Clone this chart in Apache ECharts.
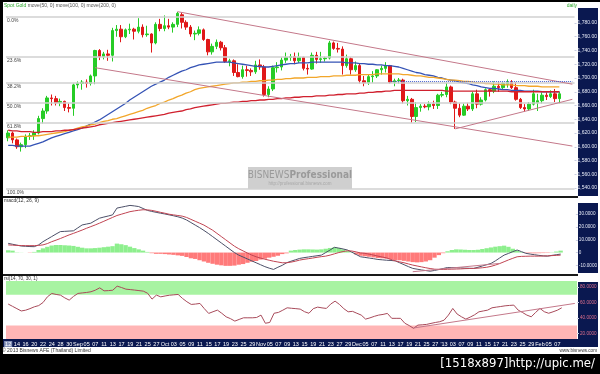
<!DOCTYPE html>
<html><head><meta charset="utf-8">
<script src="https://cdn.jsdelivr.net/npm/echarts@6/dist/echarts.min.js"></script>
<style>html,body{margin:0;padding:0;background:#fff}#c{width:600px;height:374px}</style>
</head><body><div id="c"></div>
<script>
const dates = [
'2012-08-10','2012-08-13','2012-08-14','2012-08-15','2012-08-16','2012-08-17',
'2012-08-20','2012-08-21','2012-08-22','2012-08-23','2012-08-24',
'2012-08-27','2012-08-28','2012-08-29','2012-08-30','2012-08-31',
'2012-09-03','2012-09-04','2012-09-05','2012-09-06','2012-09-07',
'2012-09-10','2012-09-11','2012-09-12','2012-09-13','2012-09-14',
'2012-09-17','2012-09-18','2012-09-19','2012-09-20','2012-09-21',
'2012-09-24','2012-09-25','2012-09-26','2012-09-27','2012-09-28',
'2012-10-01','2012-10-02','2012-10-03','2012-10-04','2012-10-05',
'2012-10-08','2012-10-09','2012-10-10','2012-10-11','2012-10-12',
'2012-10-15','2012-10-16','2012-10-17','2012-10-18','2012-10-19',
'2012-10-22','2012-10-23','2012-10-24','2012-10-25','2012-10-26',
'2012-10-29','2012-10-31','2012-11-01','2012-11-02',
'2012-11-05','2012-11-06','2012-11-07','2012-11-08','2012-11-09',
'2012-11-12','2012-11-13','2012-11-14','2012-11-15','2012-11-16',
'2012-11-19','2012-11-20','2012-11-21','2012-11-22','2012-11-23',
'2012-11-26','2012-11-27','2012-11-28','2012-11-29','2012-11-30',
'2012-12-03','2012-12-04','2012-12-05','2012-12-06','2012-12-07',
'2012-12-10','2012-12-11','2012-12-12','2012-12-13','2012-12-14',
'2012-12-17','2012-12-18','2012-12-19','2012-12-20','2012-12-21',
'2012-12-24','2012-12-25','2012-12-26','2012-12-27','2012-12-31',
'2013-01-01','2013-01-02','2013-01-03','2013-01-04',
'2013-01-07','2013-01-08','2013-01-09','2013-01-10','2013-01-11',
'2013-01-14','2013-01-15','2013-01-16','2013-01-17','2013-01-18',
'2013-01-21','2013-01-22','2013-01-23','2013-01-24','2013-01-25',
'2013-01-28','2013-01-29','2013-01-30','2013-02-01',
'2013-02-04','2013-02-05','2013-02-06','2013-02-07','2013-02-08'
];
const padDates = ['2013-02-11','2013-02-12','2013-02-13'];
const tickLabels = ['12','14','16','20','22','24','28','30','Sep','05','07','11','13','17','19','21','25','27',
'Oct','03','05','09','11','15','17','19','23','25','29','Nov','05','07','09','13','15','19','21','23','27','29',
'Dec','05','07','11','13','17','19','21','25','27',"'13",'03','07','09','11','15','17','21','23','25','29','Feb','05','07'];

// [open, close, low, high]
const ohlc = [
[1613,1620,1608,1624],[1620,1610,1605,1622],[1610,1600,1597,1612],[1600,1603,1593,1606],[1603,1615,1598,1618],
[1615,1616,1610,1620],[1616,1620,1610,1624],[1620,1641,1618,1645],[1641,1652,1634,1656],[1652,1671,1648,1674],
[1671,1670,1660,1676],[1670,1664,1660,1674],[1664,1666,1659,1670],[1666,1657,1652,1667],[1657,1656,1650,1663],
[1656,1690,1645,1692],[1690,1692,1685,1695],[1692,1694,1683,1697],[1694,1692,1686,1698],[1692,1703,1689,1705],
[1703,1740,1691,1741],[1740,1731,1726,1742],[1731,1735,1727,1738],[1735,1733,1725,1741],[1733,1769,1724,1773],
[1769,1771,1760,1777],[1771,1760,1752,1777],[1760,1770,1758,1772],[1770,1771,1764,1779],[1771,1768,1756,1773],
[1768,1774,1765,1787],[1774,1763,1759,1778],[1763,1764,1760,1776],[1764,1751,1737,1765],[1751,1778,1749,1781],
[1778,1772,1768,1786],[1772,1776,1768,1791],[1776,1774,1771,1786],[1774,1778,1766,1781],[1778,1794,1774,1796],
[1792,1781,1772,1795],[1781,1774,1770,1784],[1774,1764,1760,1777],[1764,1765,1755,1769],[1765,1770,1762,1775],
[1770,1756,1754,1772],[1756,1738,1733,1757],[1738,1746,1734,1750],[1746,1752,1742,1756],[1752,1744,1740,1754],
[1744,1724,1722,1748],[1724,1725,1717,1728],[1725,1708,1703,1727],[1708,1702,1701,1720],[1702,1712,1699,1718],
[1712,1711,1702,1718],[1711,1709,1703,1714],[1709,1719,1706,1725],[1719,1716,1712,1727],[1716,1676,1673,1719],
[1676,1684,1672,1688],[1684,1715,1681,1718],[1715,1716,1708,1723],[1716,1726,1711,1730],[1726,1730,1722,1737],
[1730,1731,1725,1735],[1731,1725,1720,1737],[1725,1730,1722,1737],[1730,1714,1711,1731],[1714,1713,1705,1720],
[1713,1733,1712,1737],[1733,1727,1721,1738],[1727,1728,1722,1738],[1728,1729,1724,1731],[1729,1751,1727,1754],
[1751,1743,1741,1753],[1743,1742,1737,1751],[1742,1718,1705,1746],[1718,1728,1715,1734],[1728,1712,1705,1730],
[1712,1718,1709,1724],[1718,1696,1692,1721],[1696,1693,1688,1703],[1693,1702,1690,1705],[1702,1703,1693,1710],
[1703,1712,1700,1713],[1712,1714,1705,1718],[1714,1718,1708,1723],[1718,1694,1692,1719],[1694,1696,1688,1699],
[1696,1697,1692,1700],[1697,1667,1663,1699],[1667,1669,1660,1674],[1669,1644,1635,1671],[1644,1657,1636,1665],
[1657,1659,1651,1662],[1659,1658,1656,1662],[1658,1662,1653,1666],[1662,1660,1655,1667],[1660,1675,1655,1677],
[1675,1676,1672,1680],[1676,1687,1672,1693],[1687,1665,1662,1689],[1665,1656,1626,1667],[1656,1646,1643,1663],
[1646,1659,1645,1663],[1659,1655,1652,1664],[1655,1677,1652,1680],[1677,1662,1656,1683],[1662,1668,1660,1672],
[1668,1683,1666,1685],[1683,1681,1673,1685],[1681,1688,1678,1695],[1688,1686,1680,1694],[1686,1692,1684,1694],
[1691,1693,1686,1698],[1693,1686,1684,1697],[1686,1669,1667,1694],[1669,1657,1655,1671],[1657,1655,1651,1662],
[1655,1662,1652,1665],[1662,1677,1660,1683],[1664,1667,1652,1677],[1667,1675,1663,1679],[1675,1673,1668,1679],
[1673,1677,1671,1682],[1677,1670,1665,1684],[1670,1677,1663,1680]
];
const ma50 = [
1602,1602,1601,1601,1601,1601,
1603,1605,1607,1610,1613,
1615,1617,1619,1621,1623,1625,1627,
1630,1633,1636,1639,
1643,1647,1651,1655,1659,1663,1668,
1672,1676,1680,1684,1688,1691,1694,1697,1701,
1704,1707,1710,1712,1715,1717,1719,
1720,1721,1722,1723,1723,1723,1723,1722,
1721,1720,1719,1718,1717,1717,1716,1716,
1717,1718,1719,1720,1721,1721,1722,
1722,1722,1723,1723,1723,1723,1723,1723,
1723,1723,1722,1722,1722,
1721,1721,1720,1720,1719,1719,
1718,1718,1717,1716,
1714,1712,1710,1708,1707,1705,1704,
1703,1701,1700,1698,1697,
1696,1694,1693,1692,1690,1689,1687,
1686,1685,1685,1684,1683,1683,1682,1682,
1682,1681,1681,1681,1681,1680,1680,1680,1680,1680
];
const ma100 = [
1614,1614,1614,1615,1615,1615,1616,
1616,1617,1618,1619,1620,1621,
1622,1624,1625,1627,1629,
1630,1632,1633,1635,1637,1638,1640,1641,1643,1645,1647,1649,
1651,1653,1656,1658,1660,1663,1665,1668,
1670,1673,1675,1678,1680,1683,1685,
1686,1687,1688,1689,1690,1691,1692,1693,
1693,1694,1694,1695,1695,1696,1696,1697,1697,1698,1698,1699,1699,1700,1700,
1700,1701,1701,1701,1702,1702,1702,1703,1703,1703,1704,1704,
1704,1705,1705,1705,1705,1706,1706,1706,1706,1706,1706,
1705,1705,1704,1703,1703,1702,1701,1701,1700,1699,1698,1697,
1697,1696,1695,1695,1694,1693,1693,1692,1692,1691,1691,1690,1690,
1690,1689,1689,1689,1688,1688,1688,1687,1687,1687,1687,1687
];
const ma200 = [
1624,1623,1623,1622,1622,1622,1621,
1621,1622,1622,1622,1623,1623,1624,1624,
1625,1626,1627,1628,1629,1630,1632,
1633,1634,1635,1636,1637,1638,1639,1640,1641,1642,1643,1644,
1645,1646,1647,1649,1650,1651,1652,1654,1655,1657,1658,
1659,1660,1661,1662,1663,1663,1664,1665,
1665,1666,1666,1667,1667,1668,1668,1669,
1669,1670,1670,1671,1671,1672,1672,1673,1673,1673,1674,1674,1674,1675,1675,
1676,1676,1677,1677,1677,1678,1678,1679,1679,1680,1680,1681,1681,1682,1682,
1682,1682,1682,1682,1682,1682,1682,1682,1682,1682,1681,1681,1681,1681,
1681,1681,1681,1681,1681,1681,1681,1681,1681,1681,1681,1680,1680,1680,1680,1680,1680,1680,1680,1680,1680,1680,1680
];
const macdLine = [
7.2,6.5,5.8,5.1,4.9,4.7,4.6,6.0,
8.5,10.5,12.5,14.5,16.4,16.6,16.8,17.0,
19.3,21.6,22.3,23.0,25.0,26.9,27.8,28.6,29.5,
34.8,35.5,36.2,36.9,36.5,36.0,34.5,
33.0,32.2,31.5,30.8,30.2,29.5,28.8,28.0,27.0,
25.5,23.5,21.5,19.5,17.3,15.0,12.5,10.0,7.5,5.0,2.5,0.0,
-2.0,-3.5,-5.0,-6.5,-8.0,-9.5,-11.0,-12.2,-13.2,
-11.5,-10.0,-8.0,-6.8,-5.7,-4.6,
-4.0,-3.5,-3.0,-2.5,-2.0,0.0,2.0,4.1,
3.5,2.8,2.0,0.3,-1.5,-3.3,
-3.8,-4.3,-4.8,-5.4,-5.7,-6.0,-6.2,-6.5,
-8.0,-9.5,-11.0,-12.4,-13.0,-13.6,-14.1,-14.6,
-14.0,-13.3,-12.5,-11.7,-11.8,-11.9,-12.0,-12.2,-12.3,-12.4,
-11.5,-10.5,-9.5,-8.5,-6.5,-4.2,-2.0,-0.7,0.7,2.0,
0.7,-0.6,-1.2,-1.7,-2.2,-2.6,-2.8,-2.2,-1.7,-1.2
];
const signalLine = [
6.0,5.8,5.6,5.5,5.4,5.4,5.4,5.6,
6.0,7.0,8.5,9.7,11.0,12.4,13.8,15.0,
16.3,17.6,19.0,20.3,21.6,23.0,24.5,26.0,27.5,
29.0,30.0,31.0,32.0,32.6,33.1,33.5,
33.4,33.0,32.3,31.5,30.8,30.0,29.5,29.0,28.5,
27.5,26.0,24.5,23.0,21.5,19.5,17.5,15.0,12.5,10.0,7.5,5.0,
3.0,1.3,-0.4,-2.0,-3.3,-4.3,-5.2,-6.0,-6.8,
-7.4,-8.0,-8.0,-7.5,-6.8,-5.9,
-5.3,-4.8,-4.3,-3.7,-3.2,-2.8,-2.0,-1.0,
0.0,0.8,1.4,1.2,0.5,-0.3,
-0.6,-1.3,-2.0,-2.8,-3.5,-4.2,-5.4,-6.5,
-7.3,-8.0,-8.9,-9.8,-10.5,-11.2,-11.9,-12.5,
-13.0,-13.2,-13.2,-13.1,-13.0,-12.9,-12.8,-12.6,-12.5,-12.4,
-12.2,-11.9,-11.5,-10.8,-9.8,-8.6,-7.2,-5.8,-4.5,-3.3,
-3.0,-2.9,-2.8,-2.8,-2.8,-2.7,-2.6,-2.4,-2.2,-2.0
];
const macdHist = [
1.8,1.5,0.2,0.1,0.0,-0.2,
0.5,2.0,3.3,4.5,5.5,5.9,5.9,5.7,5.5,5.2,4.5,3.8,3.3,3.3,3.5,3.8,4.2,4.6,5.0,
7.0,6.5,5.8,4.6,3.5,2.5,1.5,0.5,
-0.5,-1.0,-1.0,-1.2,-1.5,-1.8,-2.2,-2.6,-3.5,-4.5,
-5.0,-6.0,-7.0,-8.0,-8.8,-9.5,-10.0,-10.4,-10.4,-10.2,
-9.5,-9.0,-8.0,-7.2,-6.6,-5.5,-4.8,-4.0,-3.3,-2.5,-1.2,-0.6,
1.5,2.0,2.3,2.5,2.5,2.4,2.3,2.5,3.0,3.6,4.1,3.6,2.5,1.2,0.3,
-1.5,-2.5,-2.9,-3.3,-3.8,-4.3,-4.5,-4.8,-5.3,-5.8,-6.0,-6.5,-7.0,-7.5,-7.7,-7.5,-7.0,-6.0,-4.0,-2.0,-0.5,
1.0,2.0,2.5,2.4,2.2,2.0,2.0,2.2,2.8,3.4,4.0,4.6,5.0,5.4,4.5,3.0,1.5,0.5,
-0.3,-0.5,-0.6,-0.5,-0.4,-0.3,0.2,0.8,1.5
];
const rsi = [
58,55,52,49,50,52,54.4,56,
60,67.4,71.8,70.5,69.6,66,63.1,68,
71.8,72.5,73.1,74,76.1,79.1,75.2,75.5,76,
81.3,79.5,77.4,76.8,76.2,75.5,74.8,
72,64.4,69.6,67.4,68.5,69.5,70,70.5,65.3,
61,57.5,58,58.8,52,45.8,48,50.1,46,41.4,39,35.8,
38,40.1,40.1,40.1,40.5,43.6,33,34,46,
47.1,50,53.1,52.5,52,51.4,
48,46,52,54,53,52.3,58,61.8,
57.5,52,47.9,48.5,46,43.6,
38.4,40,42,43.6,44.5,45.8,39.4,39.4,
39.4,33,30,26.4,30.6,31,31.5,32.8,
34,35,37,43.6,52.3,45,41.4,38.4,41,44,
47.9,49,50.1,53.1,54,54.8,55.7,56.2,56.6,50.1,
47,43.6,41.4,47,52.3,48,46,47.9,50,53.1
];
const fibLabels = ['0.0%','23.6%','38.2%','50.0%','61.8%','100.0%'];
const fibPrices = [1789,1730.5,1692.7,1663.6,1634.5,1538.5];
const priceTicks = [1540,1560,1580,1600,1620,1640,1660,1680,1700,1720,1740,1760,1780];
const lastPrice = 1677;
const macdTicks = [-10,0,10,20,30];
const rsiTicks = [20,40,60,80];
const trendUpper = [[39,1796.5],[130,1691]];
const trendLower = [[20,1715],[130,1601]];
const trendRise = [[103,1626],[130,1669]];
const resistance = [[88,1695.6],[130,1695.6]];
const macdTrend = [[93,-15],[113,-8.5]];
const rsiTrend = [[93,26.8],[130,58.8]];

const cats = dates.concat(padDates);
const FONT = 'Liberation Sans, Arial, sans-serif';
const NARROW = 'Liberation Sans Narrow, DejaVu Sans Condensed, sans-serif';
const NAVY = '#0a1850';
const TREND = '#c4788a';
const fmtPrice = v => { const s = v.toFixed(2).split('.'); return s[0].replace(/\B(?=(\d{3})+(?!\d))/g, ',') + '.' + s[1]; };
const seg = (pts, color, type) => [
  {coord: pts[0], lineStyle: {color: color, width: 1, type: type || 'solid'}, label: {show: false}},
  {coord: pts[1], lineStyle: {color: color, width: 1, type: type || 'solid'}, label: {show: false}}
];

const chart = echarts.init(document.getElementById('c'), null, {renderer: 'canvas'});
const GL = 6, GR = 23;
const xAx = i => ({
  type: 'category', gridIndex: i, data: cats, boundaryGap: true, z: 10,
  axisLine: {show: false}, axisTick: {show: false}, splitLine: {show: false},
  axisLabel: i === 2 ? {
    show: true, interval: 1, color: '#ffffff', fontSize: 5.5, margin: 2, fontFamily: FONT,
    formatter: (v, idx) => { const t = tickLabels[idx / 2]; if (t === undefined) return ''; return idx === 0 ? '{hl|' + t + '}' : t; },
    rich: {hl: {backgroundColor: '#8592b8', color: '#fff', fontSize: 5.5, padding: [0, 1]}}
  } : {show: false}
});

const option = {
  animation: false,
  textStyle: {fontFamily: FONT},
  grid: [
    {left: GL, right: GR, top: 8, height: 188},
    {left: GL, right: GR, top: 204, height: 69},
    {left: GL, right: GR, top: 281, height: 58}
  ],
  xAxis: [xAx(0), xAx(1), xAx(2)],
  yAxis: [
    {type: 'value', gridIndex: 0, position: 'right', min: 1528.4, max: 1801.8, z: 10,
     axisLine: {show: false}, splitLine: {show: false},
     axisTick: {show: true, length: 2, customValues: priceTicks, lineStyle: {color: '#c8cce0'}},
     axisLabel: {color: '#e6eaf6', fontSize: 5, margin: 3, customValues: priceTicks, formatter: fmtPrice}},
    {type: 'value', gridIndex: 1, position: 'right', min: -16, max: 38, z: 10,
     axisLine: {show: false}, splitLine: {show: false},
     axisTick: {show: true, length: 2, customValues: macdTicks, lineStyle: {color: '#c8cce0'}},
     axisLabel: {color: '#e6eaf6', fontSize: 4.6, margin: 3, customValues: macdTicks, formatter: v => v === 0 ? '0' : v.toFixed(4)}},
    {type: 'value', gridIndex: 2, position: 'right', min: 12.5, max: 88, z: 10,
     axisLine: {show: false}, splitLine: {show: false},
     axisTick: {show: true, length: 2, customValues: rsiTicks, lineStyle: {color: '#c8cce0'}},
     axisLabel: {color: '#e0708c', fontSize: 4.6, margin: 3, customValues: rsiTicks, formatter: v => v.toFixed(4)}}
  ],
  series: [
    {name: 'fib', type: 'line', xAxisIndex: 0, yAxisIndex: 0, data: [], z: 1, silent: true,
     markLine: {symbol: ['none', 'none'], silent: true, animation: false,
       data: fibPrices.map((p, k) => ({yAxis: p, lineStyle: {color: '#d0d0d0', width: 1.5, type: 'solid'},
         label: {show: true, position: 'insideStartBottom', formatter: fibLabels[k], color: '#444', fontSize: 5, distance: [1, 1.5]}}))}},
    {name: 'Spot Gold', type: 'candlestick', xAxisIndex: 0, yAxisIndex: 0, data: ohlc, barWidth: 3, z: 2,
     itemStyle: {color: '#26cc26', color0: '#e01818', borderColor: '#26cc26', borderColor0: '#e01818', borderWidth: 1},
     markLine: {symbol: ['none', 'none'], silent: true, animation: false,
       data: [{yAxis: lastPrice, lineStyle: {opacity: 0},
         label: {show: true, position: 'end', formatter: fmtPrice(lastPrice), backgroundColor: '#ffff30', color: '#000', fontSize: 5, padding: [1, 1], distance: 2}}]}},
    {name: 'move(50, 0)', type: 'line', xAxisIndex: 0, yAxisIndex: 0, data: ma50, showSymbol: false, z: 3,
     lineStyle: {color: '#3553b5', width: 1.3}},
    {name: 'move(100, 0)', type: 'line', xAxisIndex: 0, yAxisIndex: 0, data: ma100, showSymbol: false, z: 3,
     lineStyle: {color: '#f2a62a', width: 1.3}},
    {name: 'move(200, 0)', type: 'line', xAxisIndex: 0, yAxisIndex: 0, data: ma200, showSymbol: false, z: 3,
     lineStyle: {color: '#d0202e', width: 1.3}},
    {name: 'trend', type: 'line', xAxisIndex: 0, yAxisIndex: 0, data: [], z: 4, silent: true,
     markLine: {symbol: ['none', 'none'], silent: true, animation: false,
       data: [seg(trendUpper, TREND), seg(trendLower, TREND), seg(trendRise, TREND), seg(resistance, '#4a64d0', 'dotted')]}},
    {name: 'hist', type: 'bar', xAxisIndex: 1, yAxisIndex: 1, data: macdHist, barCategoryGap: '0%', z: 2,
     itemStyle: {color: p => p.value >= 0 ? '#8def8d' : '#ff7a7a'}},
    {name: 'macd', type: 'line', xAxisIndex: 1, yAxisIndex: 1, data: macdLine, showSymbol: false, z: 3,
     lineStyle: {color: '#4c5068', width: 1},
     markLine: {symbol: ['none', 'none'], silent: true, animation: false, data: [seg(macdTrend, TREND)]}},
    {name: 'signal', type: 'line', xAxisIndex: 1, yAxisIndex: 1, data: signalLine, showSymbol: false, z: 3,
     lineStyle: {color: '#c04452', width: 1}},
    {name: 'rsi', type: 'line', xAxisIndex: 2, yAxisIndex: 2, data: rsi, showSymbol: false, z: 3,
     lineStyle: {color: '#a84a5a', width: 1},
     markArea: {silent: true, data: [
       [{yAxis: 70, itemStyle: {color: '#a8f3a2'}}, {yAxis: 88}],
       [{yAxis: 12.5, itemStyle: {color: '#ffb5b5'}}, {yAxis: 30}]
     ]},
     markLine: {symbol: ['none', 'none'], silent: true, animation: false, data: [seg(rsiTrend, TREND)]}}
  ],
  graphic: {elements: [
    {type: 'rect', z: 0, shape: {x: 0, y: 0, width: 600, height: 2}, style: {fill: '#000'}},
    {type: 'rect', z: 0, shape: {x: 0, y: 0, width: 3, height: 374}, style: {fill: '#000'}},
    {type: 'rect', z: 0, shape: {x: 578, y: 8, width: 20, height: 188}, style: {fill: NAVY}},
    {type: 'rect', z: 0, shape: {x: 578, y: 203, width: 20, height: 70}, style: {fill: NAVY}},
    {type: 'rect', z: 0, shape: {x: 578, y: 282, width: 20, height: 57}, style: {fill: NAVY}},
    {type: 'rect', z: 0, shape: {x: 3, y: 339, width: 595, height: 8}, style: {fill: NAVY}},
    {type: 'rect', z: 0, shape: {x: 3, y: 196, width: 575, height: 2}, style: {fill: '#1a1a1a'}},
    {type: 'rect', z: 0, shape: {x: 3, y: 274, width: 575, height: 2}, style: {fill: '#1a1a1a'}},
    {type: 'rect', z: 0, shape: {x: 0, y: 354, width: 600, height: 20}, style: {fill: '#000'}},
    {type: 'rect', z: 1, shape: {x: 248, y: 167, width: 104, height: 22}, style: {fill: '#cfcfcf'}},
    {type: 'text', z: 20, x: 300, y: 175, style: {text: '{a|BISNEWS}{b|Professional}', align: 'center', verticalAlign: 'middle',
      rich: {a: {fill: '#9a9a9a', fontSize: 10, fontFamily: NARROW},
             b: {fill: '#9a9a9a', fontSize: 10, fontWeight: 'bold', fontFamily: NARROW}}}},
    {type: 'text', z: 20, x: 300, y: 184, style: {text: 'http://professional.bisnews.com', align: 'center', verticalAlign: 'middle', fill: '#a8a8a8', fontSize: 4.5, fontFamily: FONT}},
    {type: 'text', z: 20, x: 4, y: 5.5, style: {text: '{g|Spot Gold} move(50, 0) move(100, 0) move(200, 0)', verticalAlign: 'middle', fill: '#555', fontSize: 5, fontFamily: FONT,
      rich: {g: {fill: '#2aa82a', fontSize: 5, fontFamily: FONT}}}},
    {type: 'text', z: 20, x: 577, y: 5.5, style: {text: 'daily', align: 'right', verticalAlign: 'middle', fill: '#2aa82a', fontSize: 5, fontFamily: FONT}},
    {type: 'text', z: 20, x: 4, y: 201, style: {text: 'macd(12, 26, 9)', verticalAlign: 'middle', fill: '#333', fontSize: 5, fontFamily: FONT}},
    {type: 'text', z: 20, x: 4, y: 278.5, style: {text: 'rsi(14, 70, 30, 1)', verticalAlign: 'middle', fill: '#333', fontSize: 4.6, fontFamily: FONT}},
    {type: 'text', z: 20, x: 2, y: 350.5, style: {text: '\u00a9 2013 Bisnews AFE (Thailand) Limited', verticalAlign: 'middle', fill: '#333', fontSize: 5, fontFamily: FONT}},
    {type: 'text', z: 20, x: 597, y: 350.5, style: {text: 'www.bisnews.com', align: 'right', verticalAlign: 'middle', fill: '#333', fontSize: 4.6, fontFamily: FONT}},
    {type: 'text', z: 20, x: 595, y: 363.5, style: {text: '[1518x897]http://upic.me/', align: 'right', verticalAlign: 'middle', fill: '#fff', fontSize: 13, fontFamily: NARROW}}
  ]}
};
chart.setOption(option);
</script>
</body></html>
